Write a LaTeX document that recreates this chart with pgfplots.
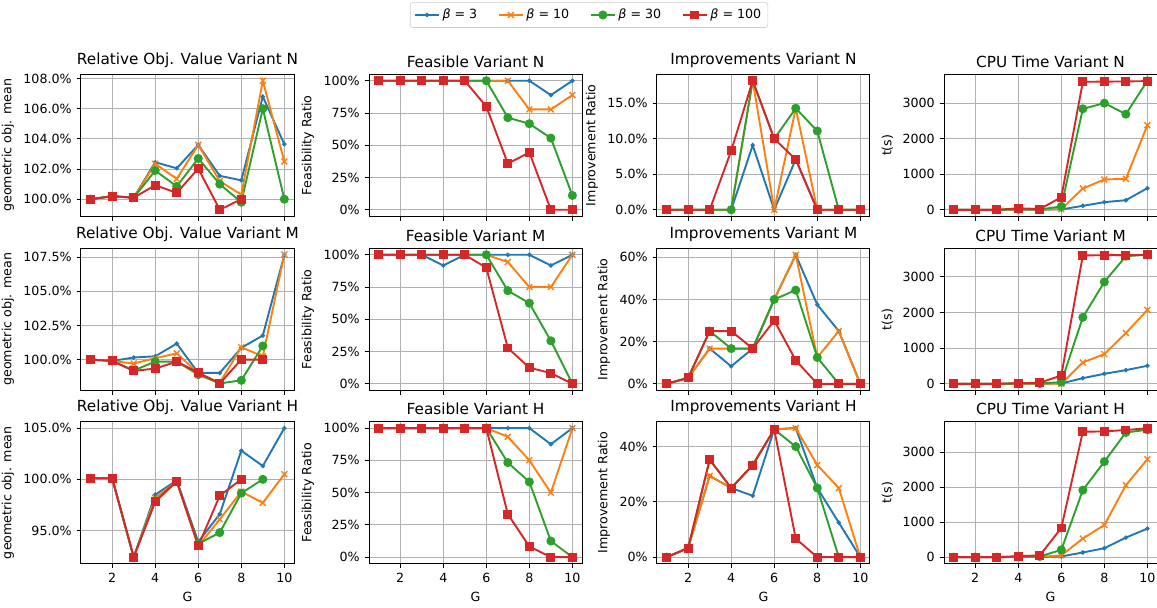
\documentclass[border=0pt]{standalone}
\usepackage{fontspec}
\setmainfont{DejaVu Sans}
\usepackage{pgfplots}
\pgfplotsset{compat=1.18}
\definecolor{c0}{HTML}{1F77B4}
\definecolor{c1}{HTML}{FF7F0E}
\definecolor{c2}{HTML}{2CA02C}
\definecolor{c3}{HTML}{D62728}
\definecolor{gridc}{HTML}{B0B0B0}
\definecolor{legc}{HTML}{CCCCCC}
\pgfplotsset{
  base/.style={width=153.4pt,height=102.2pt,scale only axis,anchor=north west,
    xmin=0.55,xmax=10.45,xtick={2,4,6,8,10},
    grid=major,grid style={color=gridc,line width=0.72pt},
    axis line style={line width=0.72pt},
    tick align=outside,tick pos=left,major tick length=3.2pt,
    tick style={black,line width=0.72pt},
    tick label style={font=\fontsize{9.1}{10}\selectfont},
    label style={font=\fontsize{9.1}{10}\selectfont},
    title style={font=\fontsize{11}{12}\selectfont,yshift=-4.5pt},
    /pgf/number format/assume math mode=true,
    /pgf/number format/1000 sep={},
    clip=false},
  top/.style={xticklabels={}},
  bot/.style={xlabel={G}},
  pct/.style={yticklabel={\pgfmathprintnumber[fixed,fixed zerofill,precision=#1]{\tick}\%}},
  sA/.style={color=c0,line width=1.36pt,mark=*,mark size=1.4pt,mark options={solid,fill=c0,line width=0.5pt}},
  sB/.style={color=c1,line width=1.36pt,mark=x,mark size=3pt,mark options={solid,line width=1pt}},
  sC/.style={color=c2,line width=1.36pt,mark=*,mark size=2.9pt,mark options={solid,fill=c2,line width=0.7pt}},
  sD/.style={color=c3,line width=1.36pt,mark=square*,mark size=2.85pt,mark options={solid,fill=c3,line width=0.7pt}},
  rel/.style={ylabel={geometric obj. mean},pct=1},
  fea/.style={ylabel={Feasibility Ratio},pct=0,ymin=-5,ymax=105,ytick={0,25,50,75,100}},
  cpu/.style={ylabel={t(s)},ytick={0,1000,2000,3000}},
}
\begin{document}
\begin{tikzpicture}
\useasboundingbox (0,0) rectangle (833.04pt,-437.76pt);
% ===== Row N =====
\begin{axis}[base,top,rel,at={(58.3pt,-53.5pt)},title={Relative Obj. Value Variant N},
  ymin=98.87,ymax=108.28,ytick={100,102,104,106,108}]
\addplot[sA] coordinates {(1,100)(2,100.2)(3,100.1)(4,102.45)(5,102.05)(6,103.6)(7,101.55)(8,101.25)(9,106.8)(10,103.65)};
\addplot[sB] coordinates {(1,100)(2,100.2)(3,100.1)(4,102.35)(5,101.35)(6,103.6)(7,101.2)(8,100.3)(9,107.85)(10,102.5)};
\addplot[sC] coordinates {(1,100)(2,100.2)(3,100.1)(4,101.9)(5,100.85)(6,102.7)(7,101.0)(8,99.8)(9,106.0)(10,100.0)};
\addplot[sD] coordinates {(1,100)(2,100.2)(3,100.1)(4,100.93)(5,100.42)(6,102.03)(7,99.3)(8,100.0)};
\end{axis}
\begin{axis}[base,top,fea,at={(265.7pt,-53.5pt)},title={Feasible Variant N},
  legend columns=4,
  legend style={at={(1.033,1.418)},anchor=center,draw=legc,rounded corners=2pt,
    font=\fontsize{9.1}{10}\selectfont,inner sep=2.8pt,
    /tikz/every even column/.append style={column sep=13pt}},
  legend cell align=left]
\addplot[sA] coordinates {(1,100)(2,100)(3,100)(4,100)(5,100)(6,100)(7,100)(8,100)(9,88.9)(10,100)};
\addlegendentry{\textit{β} = 3}
\addplot[sB] coordinates {(1,100)(2,100)(3,100)(4,100)(5,100)(6,100)(7,100)(8,77.8)(9,77.8)(10,88.9)};
\addlegendentry{\textit{β} = 10}
\addplot[sC] coordinates {(1,100)(2,100)(3,100)(4,100)(5,100)(6,100)(7,71.4)(8,66.7)(9,55.6)(10,11.1)};
\addlegendentry{\textit{β} = 30}
\addplot[sD] coordinates {(1,100)(2,100)(3,100)(4,100)(5,100)(6,80)(7,35.8)(8,44.4)(9,0)(10,0)};
\addlegendentry{\textit{β} = 100}
\end{axis}
\begin{axis}[base,top,ylabel={Improvement Ratio},pct=1,at={(473.0pt,-53.5pt)},title={Improvements Variant N},
  ymin=-0.91,ymax=19.09,ytick={0,5,10,15}]
\addplot[sA] coordinates {(1,0)(2,0)(3,0)(4,0)(5,9.1)(6,0)(7,7.1)(8,0)(9,0)(10,0)};
\addplot[sB] coordinates {(1,0)(2,0)(3,0)(4,0)(5,18.2)(6,0)(7,14.3)(8,0)(9,0)(10,0)};
\addplot[sC] coordinates {(1,0)(2,0)(3,0)(4,0)(5,18.2)(6,10)(7,14.3)(8,11.1)(9,0)(10,0)};
\addplot[sD] coordinates {(1,0)(2,0)(3,0)(4,8.3)(5,18.2)(6,10)(7,7.1)(8,0)(9,0)(10,0)};
\end{axis}
\begin{axis}[base,top,cpu,at={(679.7pt,-53.5pt)},title={CPU Time Variant N},
  ymin=-181,ymax=3811]
\addplot[sA] coordinates {(1,0)(2,0)(3,0)(4,5)(5,5)(6,10)(7,112)(8,215)(9,270)(10,608)};
\addplot[sB] coordinates {(1,0)(2,0)(3,0)(4,10)(5,5)(6,20)(7,600)(8,853)(9,872)(10,2380)};
\addplot[sC] coordinates {(1,0)(2,0)(3,0)(4,15)(5,10)(6,94)(7,2840)(8,3000)(9,2690)(10,3627)};
\addplot[sD] coordinates {(1,0)(2,0)(3,0)(4,45)(5,20)(6,356)(7,3600)(8,3605)(9,3610)(10,3620)};
\end{axis}
% ===== Row M =====
\begin{axis}[base,top,rel,at={(58.3pt,-178.8pt)},title={Relative Obj. Value Variant M},
  ymin=97.75,ymax=108.15,ytick={100,102.5,105,107.5}]
\addplot[sA] coordinates {(1,100)(2,99.9)(3,100.15)(4,100.24)(5,101.17)(6,99.02)(7,99.02)(8,100.86)(9,101.76)(10,107.67)};
\addplot[sB] coordinates {(1,100)(2,99.9)(3,99.71)(4,100.1)(5,100.46)(6,99.0)(7,98.3)(8,100.9)(9,100.24)(10,107.7)};
\addplot[sC] coordinates {(1,100)(2,99.9)(3,99.2)(4,99.85)(5,99.85)(6,98.9)(7,98.25)(8,98.48)(9,101.0)};
\addplot[sD] coordinates {(1,100)(2,99.9)(3,99.17)(4,99.34)(5,99.85)(6,99.05)(7,98.25)(8,100.0)(9,100.0)};
\end{axis}
\begin{axis}[base,top,fea,at={(265.7pt,-178.8pt)},title={Feasible Variant M}]
\addplot[sA] coordinates {(1,100)(2,100)(3,100)(4,91.7)(5,100)(6,100)(7,100)(8,100)(9,91.7)(10,100)};
\addplot[sB] coordinates {(1,100)(2,100)(3,100)(4,100)(5,100)(6,100)(7,94.4)(8,75)(9,75)(10,100)};
\addplot[sC] coordinates {(1,100)(2,100)(3,100)(4,100)(5,100)(6,100)(7,72.2)(8,62.5)(9,33.3)(10,0)};
\addplot[sD] coordinates {(1,100)(2,100)(3,100)(4,100)(5,100)(6,90)(7,27.8)(8,12.5)(9,8.3)(10,0)};
\end{axis}
\begin{axis}[base,top,ylabel={Improvement Ratio},pct=0,at={(473.0pt,-178.8pt)},title={Improvements Variant M},
  ymin=-3.06,ymax=64.2,ytick={0,20,40,60}]
\addplot[sA] coordinates {(1,0)(2,2.8)(3,16.7)(4,8.3)(5,16.7)(6,40)(7,61.1)(8,37.5)(9,25)(10,0)};
\addplot[sB] coordinates {(1,0)(2,2.8)(3,16.7)(4,16.7)(5,16.7)(6,40)(7,61.1)(8,12.5)(9,25)(10,0)};
\addplot[sC] coordinates {(1,0)(2,2.8)(3,25)(4,16.7)(5,16.7)(6,40)(7,44.4)(8,12.5)(9,0)(10,0)};
\addplot[sD] coordinates {(1,0)(2,2.8)(3,25)(4,25)(5,16.7)(6,30)(7,11.1)(8,0)(9,0)(10,0)};
\end{axis}
\begin{axis}[base,top,cpu,at={(679.7pt,-178.8pt)},title={CPU Time Variant M},
  ymin=-181,ymax=3801]
\addplot[sA] coordinates {(1,0)(2,0)(3,0)(4,5)(5,5)(6,10)(7,159)(8,281)(9,384)(10,506)};
\addplot[sB] coordinates {(1,0)(2,0)(3,0)(4,5)(5,5)(6,0)(7,600)(8,834)(9,1425)(10,2071)};
\addplot[sC] coordinates {(1,0)(2,0)(3,0)(4,10)(5,10)(6,47)(7,1865)(8,2859)(9,3581)(10,3620)};
\addplot[sD] coordinates {(1,0)(2,0)(3,0)(4,20)(5,30)(6,234)(7,3600)(8,3610)(9,3610)(10,3620)};
\end{axis}
% ===== Row H =====
\begin{axis}[base,bot,rel,at={(58.3pt,-303.6pt)},title={Relative Obj. Value Variant H},
  ymin=91.77,ymax=105.63,ytick={95,100,105}]
\addplot[sA] coordinates {(1,100.1)(2,100.1)(3,92.4)(4,98.5)(5,99.9)(6,93.9)(7,96.6)(8,102.8)(9,101.3)(10,105.0)};
\addplot[sB] coordinates {(1,100.1)(2,100.1)(3,92.4)(4,98.2)(5,99.8)(6,93.5)(7,96.1)(8,98.8)(9,97.7)(10,100.5)};
\addplot[sC] coordinates {(1,100.1)(2,100.1)(3,92.4)(4,97.9)(5,99.8)(6,93.7)(7,94.8)(8,98.65)(9,100.0)};
\addplot[sD] coordinates {(1,100.1)(2,100.1)(3,92.4)(4,97.8)(5,99.8)(6,93.5)(7,98.4)(8,100.0)};
\end{axis}
\begin{axis}[base,bot,fea,at={(265.7pt,-303.6pt)},title={Feasible Variant H}]
\addplot[sA] coordinates {(1,100)(2,100)(3,100)(4,100)(5,100)(6,100)(7,100)(8,100)(9,87.5)(10,100)};
\addplot[sB] coordinates {(1,100)(2,100)(3,100)(4,100)(5,100)(6,100)(7,93.3)(8,75)(9,50)(10,100)};
\addplot[sC] coordinates {(1,100)(2,100)(3,100)(4,100)(5,100)(6,100)(7,73.3)(8,58.3)(9,12.5)(10,0)};
\addplot[sD] coordinates {(1,100)(2,100)(3,100)(4,100)(5,100)(6,100)(7,33.3)(8,8.3)(9,0)(10,0)};
\end{axis}
\begin{axis}[base,bot,ylabel={Improvement Ratio},pct=0,at={(473.0pt,-303.6pt)},title={Improvements Variant H},
  ymin=-2.33,ymax=49.0,ytick={0,20,40}]
\addplot[sA] coordinates {(1,0)(2,3.3)(3,29.4)(4,25)(5,22.2)(6,46.2)(7,46.7)(8,25)(9,12.5)(10,0)};
\addplot[sB] coordinates {(1,0)(2,3.3)(3,29.4)(4,25)(5,33.3)(6,46.2)(7,46.7)(8,33.3)(9,25)(10,0)};
\addplot[sC] coordinates {(1,0)(2,3.3)(3,35.3)(4,25)(5,33.3)(6,46.2)(7,40)(8,25)(9,0)(10,0)};
\addplot[sD] coordinates {(1,0)(2,3.3)(3,35.3)(4,25)(5,33.3)(6,46.2)(7,6.7)(8,0)(9,0)(10,0)};
\end{axis}
\begin{axis}[base,bot,cpu,at={(679.7pt,-303.6pt)},title={CPU Time Variant H},
  ymin=-185,ymax=3879]
\addplot[sA] coordinates {(1,0)(2,0)(3,0)(4,5)(5,5)(6,20)(7,133)(8,256)(9,560)(10,817)};
\addplot[sB] coordinates {(1,0)(2,0)(3,0)(4,5)(5,10)(6,50)(7,532)(8,921)(9,2061)(10,2801)};
\addplot[sC] coordinates {(1,0)(2,0)(3,0)(4,10)(5,20)(6,209)(7,1918)(8,2735)(9,3570)(10,3647)};
\addplot[sD] coordinates {(1,0)(2,0)(3,0)(4,30)(5,50)(6,836)(7,3590)(8,3600)(9,3640)(10,3690)};
\end{axis}
\end{tikzpicture}
\end{document}
